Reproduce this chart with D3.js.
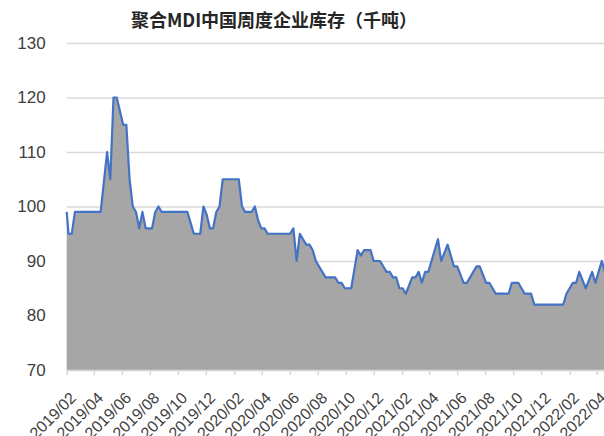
<!DOCTYPE html>
<html>
<head>
<meta charset="utf-8">
<script src="https://cdn.jsdelivr.net/npm/d3@7"></script>
<style>
  body { margin: 0; background: #fff; }
  .axis text { font-family: "Liberation Sans", Arial, sans-serif; fill: #404040; }
</style>
</head>
<body>
<div id="chart"></div>
<script>
// weekly dates (first point is the 2019/02 start of the series)
var dates = [
  "2019-02-01",
  "2019-02-05","2019-02-12","2019-02-19","2019-02-26",
  "2019-03-05","2019-03-12","2019-03-19","2019-03-26",
  "2019-04-02","2019-04-09","2019-04-16","2019-04-23","2019-04-30",
  "2019-05-07","2019-05-14","2019-05-21","2019-05-28",
  "2019-06-04","2019-06-11","2019-06-18","2019-06-25",
  "2019-07-02","2019-07-09","2019-07-16","2019-07-23","2019-07-30",
  "2019-08-06","2019-08-13","2019-08-20","2019-08-27",
  "2019-09-03","2019-09-10","2019-09-17","2019-09-24",
  "2019-10-01","2019-10-08","2019-10-15","2019-10-22","2019-10-29",
  "2019-11-05","2019-11-12","2019-11-19","2019-11-26",
  "2019-12-03","2019-12-10","2019-12-17","2019-12-24","2019-12-31",
  "2020-01-07","2020-01-14","2020-01-21","2020-01-28",
  "2020-02-04","2020-02-11","2020-02-18","2020-02-25",
  "2020-03-03","2020-03-10","2020-03-17","2020-03-24","2020-03-31",
  "2020-04-07","2020-04-14","2020-04-21","2020-04-28",
  "2020-05-05","2020-05-12","2020-05-19","2020-05-26",
  "2020-06-02","2020-06-09","2020-06-16","2020-06-23","2020-06-30",
  "2020-07-07","2020-07-14","2020-07-21","2020-07-28",
  "2020-08-04","2020-08-11","2020-08-18","2020-08-25",
  "2020-09-01","2020-09-08","2020-09-15","2020-09-22","2020-09-29",
  "2020-10-06","2020-10-13","2020-10-20","2020-10-27",
  "2020-11-03","2020-11-10","2020-11-17","2020-11-24",
  "2020-12-01","2020-12-08","2020-12-15","2020-12-22","2020-12-29",
  "2021-01-05","2021-01-12","2021-01-19","2021-01-26",
  "2021-02-02","2021-02-09","2021-02-16","2021-02-23",
  "2021-03-02","2021-03-09","2021-03-16","2021-03-23","2021-03-30",
  "2021-04-06","2021-04-13","2021-04-20","2021-04-27",
  "2021-05-04","2021-05-11","2021-05-18","2021-05-25",
  "2021-06-01","2021-06-08","2021-06-15","2021-06-22","2021-06-29",
  "2021-07-06","2021-07-13","2021-07-20","2021-07-27",
  "2021-08-03","2021-08-10","2021-08-17","2021-08-24","2021-08-31",
  "2021-09-07","2021-09-14","2021-09-21","2021-09-28",
  "2021-10-05","2021-10-12","2021-10-19","2021-10-26",
  "2021-11-02","2021-11-09","2021-11-16","2021-11-23","2021-11-30",
  "2021-12-07","2021-12-14","2021-12-21","2021-12-28",
  "2022-01-04","2022-01-11","2022-01-18","2022-01-25",
  "2022-02-01","2022-02-08","2022-02-15","2022-02-22",
  "2022-03-01","2022-03-08","2022-03-15","2022-03-22","2022-03-29",
  "2022-04-05","2022-04-12","2022-04-19"
];

// inventory, thousand tonnes (one value per date above)
var stock = [
  99,
  95, 95, 99, 99, 99, 99, 99, 99, 99, 99, 99,
  104.5, 110, 105, 120, 120, 117.5, 115, 115, 105, 100,
  99, 96, 99, 96, 96, 96, 99, 100, 99, 99,
  99, 99, 99, 99, 99, 99, 99, 97, 95, 95,
  95, 100, 98.5, 96, 96, 99, 100, 105, 105, 105,
  105, 105, 105, 100, 99, 99, 99, 100, 97.5, 96,
  96, 95, 95, 95, 95, 95, 95, 95, 95, 96,
  90, 95, 94, 93, 93, 92, 90, 89, 88, 87,
  87, 87, 87, 86, 86, 85, 85, 85, 88.5, 92,
  91, 92, 92, 92, 90, 90, 90, 89, 88, 88,
  87, 87, 85, 85, 84, 85.5, 87, 87, 88, 86,
  88, 88, 90, 92, 94, 90, 91.5, 93, 91, 89,
  89, 87.5, 86, 86, 87, 88, 89, 89, 87.5, 86,
  86, 85, 84, 84, 84, 84, 84, 86, 86, 86,
  85, 84, 84, 84, 82, 82, 82, 82, 82, 82,
  82, 82, 82, 82, 84, 85, 86, 86, 88, 86.5,
  85, 86.5, 88, 86, 88, 90, 88
];

var yTicks = [70, 80, 90, 100, 110, 120, 130];
var tickLabels = ["2019/02","2019/04","2019/06","2019/08","2019/10","2019/12",
                  "2020/02","2020/04","2020/06","2020/08","2020/10","2020/12",
                  "2021/02","2021/04","2021/06","2021/08","2021/10","2021/12",
                  "2022/02","2022/04"];
var chartTitle = "聚合MDI中国周度企业库存（千吨）";

var widthT = 604, heightT = 436;
var margin = {top: 43, right: -1, bottom: 66, left: 66.7},
    plotW = widthT - margin.left - margin.right,
    plotH = heightT - margin.top - margin.bottom;

var parseDate = d3.timeParse("%Y-%m-%d");
var parseTick = d3.timeParse("%Y/%m");

var series = dates.map(function(d, i) { return {date: parseDate(d), value: stock[i]}; });

var svg = d3.select("#chart")
    .append("svg")
    .attr("width", widthT)
    .attr("height", heightT);

svg.append("text")
    .attr("x", 274)
    .attr("y", 27)
    .attr("text-anchor", "middle")
    .style("font-family", "'Noto Sans CJK SC', sans-serif")
    .style("font-weight", "bold")
    .style("font-size", "18px")
    .style("fill", "#262626")
    .text(chartTitle);

var xScale = d3.scaleTime()
    .domain(d3.extent(series, function(d) { return d.date; }))
    .range([0, plotW]);
var yScale = d3.scaleLinear().domain([70, 130]).range([plotH, 0]);

var g = svg.append("g")
    .attr("transform", "translate(" + margin.left + "," + margin.top + ")");

// grid + y labels
var yAxis = d3.axisLeft(yScale).tickValues(yTicks).tickSize(-plotW).tickPadding(21);
g.append("g")
    .attr("class", "y axis")
    .call(yAxis)
    .call(function(s) {
      s.select(".domain").remove();
      s.selectAll("line").attr("stroke", "#d9d9d9").attr("stroke-width", 1.5);
      s.selectAll("text").style("font-size", "17px");
    });

var area = d3.area()
    .x(function(d) { return xScale(d.date); })
    .y0(plotH)
    .y1(function(d) { return yScale(d.value); });

var line = d3.line()
    .x(function(d) { return xScale(d.date); })
    .y(function(d) { return yScale(d.value); });

g.append("path")
    .datum(series)
    .attr("fill", "#a6a6a6")
    .attr("d", area);

g.append("path")
    .datum(series)
    .attr("fill", "none")
    .attr("stroke", "#4472c4")
    .attr("stroke-width", 2.2)
    .attr("stroke-linejoin", "round")
    .attr("d", line);

var xAxis = d3.axisBottom(xScale)
    .tickValues(tickLabels.map(parseTick))
    .tickFormat(d3.timeFormat("%Y/%m"))
    .tickSize(5)
    .tickSizeOuter(0);

g.append("g")
    .attr("class", "x axis")
    .attr("transform", "translate(0," + plotH + ")")
    .call(xAxis)
    .call(function(s) {
      s.select(".domain").attr("stroke", "#d9d9d9").attr("stroke-width", 1.5);
      s.selectAll("line").attr("stroke", "#d9d9d9").attr("stroke-width", 1.5);
      s.selectAll("text")
        .style("font-size", "16px")
        .attr("text-anchor", "end")
        .attr("x", 0)
        .attr("y", 0)
        .attr("dy", "0.35em")
        .attr("transform", "translate(6,25) rotate(-45)");
    });
</script>
</body>
</html>
